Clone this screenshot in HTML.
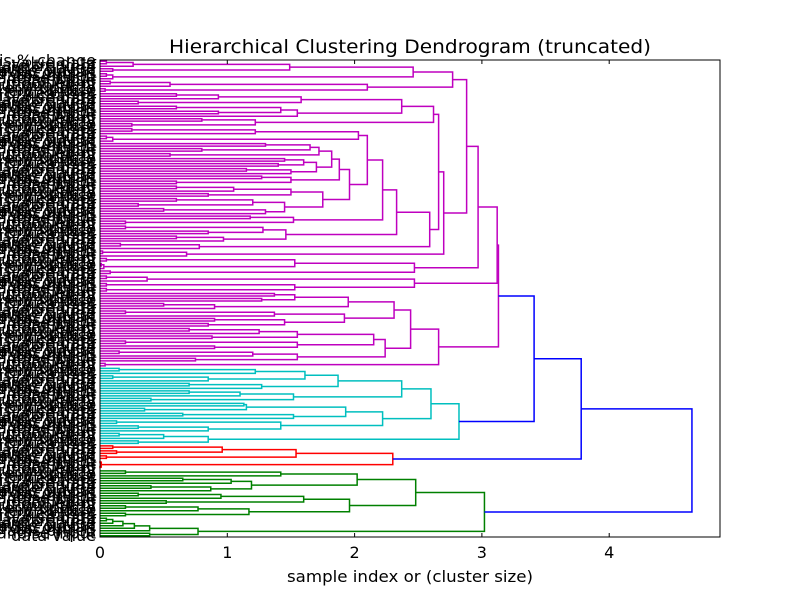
<!DOCTYPE html>
<html><head><meta charset="utf-8"><style>
html,body{margin:0;padding:0;background:#fff;}
svg{display:block;font-family:"DejaVu Sans","Liberation Sans",sans-serif;}
</style></head><body>
<svg id="chart" width="800" height="597" viewBox="0 0 800 597" xmlns="http://www.w3.org/2000/svg">
<rect width="800" height="597" fill="#fff"/>
<g id="labels"></g>
<g id="links"></g>
<rect x="100" y="60" width="620" height="477" fill="none" stroke="#000" stroke-width="1"/>
<g id="xticks"></g>
<text x="410" y="53" font-size="19" text-anchor="middle" textLength="482" lengthAdjust="spacingAndGlyphs">Hierarchical Clustering Dendrogram (truncated)</text>
<text x="410" y="582" font-size="16" text-anchor="middle" textLength="246" lengthAdjust="spacingAndGlyphs">sample index or (cluster size)</text>
</svg>
<script>
// ---- data: node = [height, left, right], leaf = 0 ----
const B1=[2.77,[2.46,[1.49,[0.26,[0.05,0,0],0],[0.1,0,0]],[0.1,[0.05,0,0],0]],[2.1,[0.55,[0.08,0,0],0],[0.04,0,0]]];
const B2=[2.37,[1.58,[0.93,[0.6,0,0],0],[0.3,0,0]],[1.55,[1.42,[0.6,0,0],[0.93,0,0]],0]];
const B3=[1.22,[0.8,0,0],[0.25,0,0]];
const B4=[2.03,[1.22,[0.25,0,0],0],[0.1,[0.05,0,0],0]];
const B5=[1.72,[1.65,[1.3,0,0],[0.8,0,0]],[0.55,0,0]];
const B6=[1.7,[1.6,[1.45,0,0],[1.4,0,0]],[1.5,[1.15,0,0],0]];
const B7=[1.5,[1.27,0,0],[0.6,0,0]];
const B8=[1.75,[1.5,[1.05,[0.6,0,0],0],[0.85,0,0]],[1.45,[1.2,[0.6,0,0],[0.3,0,0]],[1.3,[0.5,0,0],0]]];
const B9=[1.52,[1.18,0,0],[0.2,0,0]];
const B10=[1.46,[1.28,[0.2,0,0],[0.85,0,0]],[0.97,[0.6,0,0],0]];
const B11=[0.78,[0.16,0,0],0];
const B12=[0.68,[0.02,0,0],0];
const B13=[2.47,[1.53,[0.05,0,0],[0.03,[0.01,0,0],0]],[0.08,0,0]];
const B14=[2.47,[0.37,[0.05,0,0],0],[1.53,[0.05,0,0],[0.05,0,0]]];
const M_upper=[3.12,[2.97,[2.88,B1,[2.70,[2.66,[2.62,B2,B3],[2.59,[2.33,[2.22,[2.1,B4,[1.96,[1.88,[1.82,B5,B6],B7],B8]],B9],B10],B11]],B12]],B13],B14];
const M_lower=[2.66,[2.44,[2.31,[1.95,[1.53,[1.37,0,0],[1.27,0,0]],[0.9,[0.5,0,0],0]],[1.92,[1.37,[0.2,0,0],0],[1.45,[0.9,0,0],[0.85,0,0]]]],[2.24,[2.15,[1.55,[1.25,[0.7,0,0],0],[0.88,0,0]],[1.55,[0.2,0,0],[0.9,0,0]]],[1.55,[1.2,[0.15,0,0],0],[0.75,0,0]]]],[0.04,0,0]];
const magentaTree=[3.13,M_upper,M_lower];
const cyanTree=[2.82,[2.6,[2.37,[1.87,[1.61,[1.22,[0.15,0,0],0],[0.85,[0.1,0,0],0]],[1.27,[0.7,0,0],0]],[1.52,[1.1,[0.7,0,0],0],[0.4,0,0]]],[2.22,[1.93,[1.15,[1.13,0,0],[0.35,0,0]],[1.52,[0.65,0,0],0]],[1.42,[0.13,0,0],[0.85,[0.3,0,0],0]]]],[0.85,[0.5,[0.15,0,0],0],[0.3,0,0]]];
const redTree=[2.3,[1.54,[0.96,[0.1,0,0],[0.13,0,0]],[0.05,0,0]],[0.01,[0,0,0],[0,0,0]]];
const greenTree=[3.02,[2.48,[2.02,[1.42,[0.2,0,0],0],[1.19,[1.03,[0.65,0,0],0],[0.87,[0.4,0,0],0]]],[1.96,[1.6,[0.95,[0.3,0,0],0],[0.52,0,0]],[1.17,[0.77,[0.2,0,0],0],[0.2,0,0]]]],[0.77,[0.39,[0.27,[0.18,[0.1,[0.05,0,0],0],0],0],0],[0.39,0,0]]];
const rootHeights=[4.65,3.78,3.41];
const groupTrees=[magentaTree,cyanTree,redTree,greenTree];
const groupColors=["#bf00bf","#00bfbf","#ff0000","#008000"];
const xTicks=[0,1,2,3,4];
const labelWords=["discount is","value","update","% change","gauge","flat is priced","modified of","merchandise","data","output","input","quarterly","price offset","trend of"];

// ---- rendering ----
const NS="http://www.w3.org/2000/svg";
const X0=100,X1=720,Y0=60,Y1=537,XMAX=620/127.3;
const xs=h=>X0+h/XMAX*(X1-X0);
function countLeaves(n){return n===0?1:countLeaves(n[1])+countLeaves(n[2]);}
const total=groupTrees.reduce((s,t)=>s+countLeaves(t),0);
const step=(Y1-Y0)/total;
let leafIdx=0;
const links=document.getElementById('links');
function line(pts,color,name){
  const p=document.createElementNS(NS,'polyline');
  p.setAttribute('points',pts.map(a=>a.join(',')).join(' '));
  p.setAttribute('fill','none');p.setAttribute('stroke',color);p.setAttribute('stroke-width','1.5');
  
  
  links.appendChild(p);
}
function draw(n,color){
  if(n===0){const y=Y0+(leafIdx+0.5)*step;leafIdx++;return {y:y,h:0};}
  const a=draw(n[1],color),b=draw(n[2],color);
  line([[xs(a.h),a.y],[xs(n[0]),a.y],[xs(n[0]),b.y],[xs(b.h),b.y]],color,'cluster-link');
  return {y:(a.y+b.y)/2,h:n[0]};
}
const g=groupTrees.map((t,i)=>draw(t,groupColors[i]));
let cur=g[0];
for(let i=1;i<groupTrees.length;i++){
  const h=rootHeights[rootHeights.length-i];
  const o=g[i];
  line([[xs(cur.h),cur.y],[xs(h),cur.y],[xs(h),o.y],[xs(o.h),o.y]],"#0000ff",'top-link');
  cur={y:(cur.y+o.y)/2,h:h};
}
// leaf labels
const lab=document.getElementById('labels');
for(let i=0;i<total;i++){
  const t=document.createElementNS(NS,'text');
  t.setAttribute('x','96');t.setAttribute('y',(Y0+(i+0.5)*step+5).toFixed(1));
  t.setAttribute('font-size','16');t.setAttribute('text-anchor','end');
  
  
  t.textContent=labelWords[i%labelWords.length]+" "+labelWords[(i*5+3)%labelWords.length];
  lab.appendChild(t);
}
// x ticks
const xt=document.getElementById('xticks');
xTicks.forEach(v=>{
  const x=xs(v);
  [[Y1,Y1-4],[Y0,Y0+4]].forEach(([a,b])=>{
    const l=document.createElementNS(NS,'line');
    l.setAttribute('x1',x);l.setAttribute('x2',x);l.setAttribute('y1',a);l.setAttribute('y2',b);
    l.setAttribute('stroke','#000');
    
    
    xt.appendChild(l);
  });
  const t=document.createElementNS(NS,'text');
  t.setAttribute('x',x);t.setAttribute('y','558');t.setAttribute('font-size','16');t.setAttribute('text-anchor','middle');
  
  
  t.textContent=v;xt.appendChild(t);
});
</script>
</body></html>
